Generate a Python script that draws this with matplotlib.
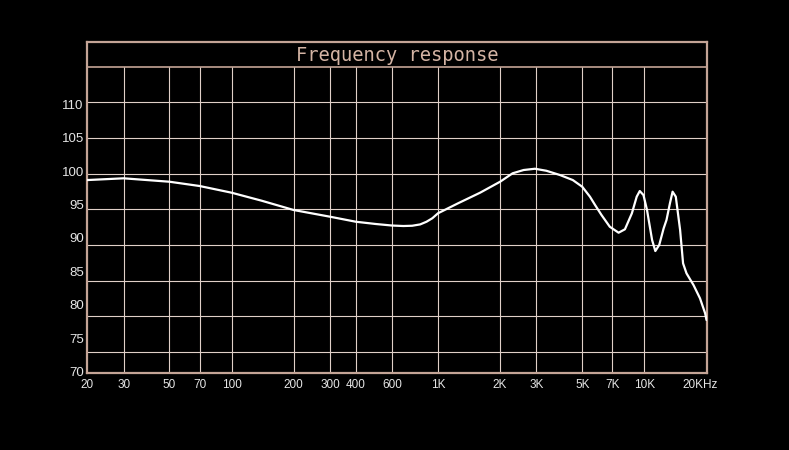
import matplotlib
matplotlib.use("Agg")
import matplotlib.pyplot as plt
from matplotlib.transforms import ScaledTranslation, blended_transform_factory

# ---- data ----
freq_hz = [20, 30, 50, 70, 100, 140, 200, 300, 400, 500, 600, 680, 750, 820, 880,
           940, 1000, 1250, 1600, 2000, 2300, 2600, 2950, 3350, 3900, 4500, 5000,
           5450, 5770, 6200, 6800, 7500, 8050, 8700, 9180, 9500, 9900, 10300,
           10900, 11300, 11800, 12400, 12800, 13300, 13700, 14200, 14900, 15400,
           16000, 17300, 18600, 19700, 20000]
spl_db = [98.65, 98.91, 98.40, 97.76, 96.76, 95.56, 94.17, 93.17, 92.42, 92.08,
          91.85, 91.78, 91.82, 92.02, 92.42, 92.95, 93.68, 95.17, 96.76, 98.40,
          99.66, 100.15, 100.34, 100.04, 99.40, 98.65, 97.65, 96.16, 94.92, 93.42,
          91.67, 90.78, 91.29, 93.68, 96.16, 97.01, 96.41, 94.17, 89.69, 88.04,
          88.94, 91.43, 92.68, 95.17, 96.91, 96.16, 91.18, 86.20, 84.71, 82.96,
          80.97, 78.73, 77.73]

x_ticks = [20, 30, 50, 70, 100, 200, 300, 400, 600, 1000, 2000, 3000, 5000,
           7000, 10000, 20000]
x_tick_labels = ["20", "30", "50", "70", "100", "200", "300", "400", "600",
                 "1K", "2K", "3K", "5K", "7K", "10K", "20KHz"]
y_ticks = [70, 75, 80, 85, 90, 95, 100, 105, 110]
y_tick_labels = ["70", "75", "80", "85", "90", "95", "100", "105", "110"]
title_text = "Frequency response"

# decorative grid levels (drawn offset from the labels, as in the reference)
grid_levels = [72.94, 78.28, 83.62, 88.94, 94.28, 99.61, 104.93, 110.26]
title_sep = 115.59
y_min, y_max = 69.81, 119.24

border_col = "#c4a496"
grid_col = "#e0d0c8"
title_col = "#d4b4a4"
label_col = "#e6e6e6"

W, H = 789, 450
fig = plt.figure(figsize=(W / 100, H / 100), dpi=100, facecolor="black")
left, right, top, bottom = 87.3, 706.5, 42.3, 373.0
ax = fig.add_axes([left / W, 1 - bottom / H, (right - left) / W, (bottom - top) / H])
ax.set_facecolor("black")
ax.set_xscale("log")
ax.set_xlim(20, 20000)
ax.set_ylim(y_min, y_max)

# grid
ax.hlines(grid_levels, 20, 20000, color=grid_col, lw=0.8, zorder=1)
ax.hlines([title_sep], 20, 20000, color=border_col, lw=1.2, zorder=1)
ax.vlines(x_ticks[1:-1], y_min, title_sep, color=grid_col, lw=0.8, zorder=1)

# curve
ax.plot(freq_hz, spl_db, color="white", lw=1.6, solid_joinstyle="round",
        solid_capstyle="round", zorder=3)

# ticks
ax.minorticks_off()
ax.set_xticks(x_ticks)
ax.set_xticklabels(x_tick_labels, fontsize=8.5, color=label_col,
                   family=["Liberation Sans", "DejaVu Sans"])
ax.set_yticks(y_ticks)
ax.set_yticklabels(y_tick_labels, fontsize=9.5, color=label_col,
                   family=["Liberation Sans", "DejaVu Sans"])
ax.tick_params(axis="both", length=0)
ax.tick_params(axis="x", pad=4.5)
ax.tick_params(axis="y", pad=2.5)
last = ax.get_xticklabels()[-1]
last.set_transform(last.get_transform() + ScaledTranslation(-0.067, 0, fig.dpi_scale_trans))

for s in ax.spines.values():
    s.set_color(border_col)
    s.set_linewidth(1.6)

# title inside the top strip
trans = blended_transform_factory(ax.transAxes, ax.transData)
ax.text(0.5, (title_sep + y_max) / 2 - 0.2, title_text, transform=trans,
        ha="center", va="center", color=title_col, fontsize=13.5,
        family=["DejaVu Sans Mono"])

fig.savefig("out.png", dpi=100, facecolor="black")
